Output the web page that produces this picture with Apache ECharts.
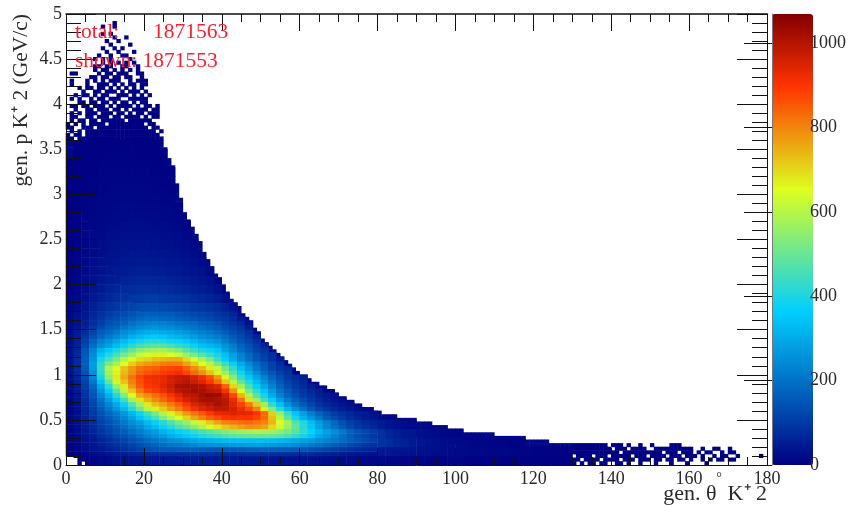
<!DOCTYPE html>
<html>
<head>
<meta charset="utf-8">
<title>gen. p vs theta K+ 2</title>
<script src="https://cdn.jsdelivr.net/npm/echarts@6/dist/echarts.min.js"></script>
<style>
html, body { margin: 0; padding: 0; background: #fff; overflow: hidden; }
#main { width: 849px; height: 505px; }
</style>
</head>
<body>
<div id="main"></div>
<script>
// tick labels
var thetaTicks = [0, 20, 40, 60, 80, 100, 120, 140, 160, 180];
var momentumTicks = [0, 0.5, 1, 1.5, 2, 2.5, 3, 3.5, 4, 4.5, 5];
var countTicks = [0, 200, 400, 600, 800, 1000];
var countMax = 1069;

// counts, one line per 0.1 GeV/c from p = 0, each entry a 2 degree bin from theta = 0
var bodyCounts = [
    [0,0,0,8,15,20,25,30,33,35,38,40,40,42,42,45,45,45,44,45,44,45,44,43,42,40,38,36,34,32,30,28,26,24,22,20,19,18,16,15,14,13,12,11,10,10,9,8,8,7,7,6,6,5,5,5,4,4,4,3,3,3,3,2,2],
    [4,8,20,30,38,48,60,70,85,95,105,115,120,125,125,130,130,125,120,115,115,115,120,125,130,130,130,125,125,120,115,110,100,90,85,78,70,60,55,50,45,42,38,34,30,28,26,24,22,20,18,17,15,14,12,11,10,9,8,7,6,6,5,5,4],
    [6,15,30,42,60,75,90,110,130,150,170,190,205,225,235,250,265,275,285,290,295,300,300,305,300,300,295,285,280,270,255,240,225,205,185,170,150,130,115,100,88,76,65,56,48,40,34,28,24,20,18,15,13,11,9,8,7,6,5,4,3,3,2,2,1],
    [8,20,40,60,85,105,130,155,175,205,235,260,290,320,345,370,395,425,450,470,495,505,520,525,530,525,520,505,485,450,410,360,315,275,240,205,170,140,120,100,85,68,55,45,37,30,24,19,15,12,9,7,5,3],
    [10,25,50,75,110,135,165,200,235,265,310,350,395,440,490,530,580,630,680,720,760,780,795,810,800,780,720,640,570,480,410,340,280,230,190,150,120,95,80,62,50,38,30,24,18,12,8,3],
    [10,28,60,95,135,170,205,250,300,360,425,490,560,630,680,740,790,830,870,900,920,930,920,920,890,830,720,580,460,370,300,240,190,150,120,95,75,58,45,34,22,8],
    [12,30,70,115,170,220,280,350,440,540,640,700,740,790,830,880,930,960,980,1000,990,950,900,840,760,620,480,380,290,230,180,140,105,80,62,46,34,18,6],
    [14,35,85,140,215,290,380,490,610,720,770,810,850,890,930,970,990,1020,1030,1020,980,900,780,640,520,420,330,255,195,150,115,90,65,50,34,18,5],
    [18,45,100,170,280,390,520,640,750,830,880,900,930,960,1000,1010,1020,1010,980,960,870,740,610,490,400,320,250,190,145,110,85,62,45,28,8],
    [25,60,125,220,370,520,650,740,810,870,910,920,930,960,980,990,960,930,880,800,690,570,460,380,310,245,190,145,110,85,60,40,10],
    [30,70,150,260,430,580,660,730,780,830,850,860,880,890,900,860,810,760,700,640,540,450,360,290,230,175,135,105,80,55,20],
    [35,75,165,270,410,490,550,620,680,720,740,760,770,780,780,730,680,620,560,480,400,330,270,220,170,135,100,70,25],
    [35,70,150,240,330,380,430,480,530,580,600,620,620,600,570,520,480,440,410,370,310,260,210,170,130,100,65,15],
    [30,60,115,180,240,270,310,350,390,420,440,450,440,420,400,380,350,320,300,280,240,200,160,130,95,55,10],
    [25,50,85,130,170,195,225,260,285,310,325,330,325,310,295,280,260,240,225,205,175,145,120,90,50,6],
    [20,35,60,90,120,145,165,190,210,225,240,245,240,230,215,205,195,180,165,150,125,105,80,40,8],
    [15,30,45,70,90,110,125,140,155,170,180,180,175,170,160,150,140,130,120,105,90,70,35,5],
    [12,22,35,55,72,85,95,110,120,130,135,135,130,125,120,110,100,95,85,75,60,35,4],
    [10,18,28,42,58,68,78,85,95,100,105,105,100,95,90,85,78,70,62,52,30,6],
    [8,14,24,35,48,56,64,72,78,82,82,80,78,75,70,65,58,52,45,30,6],
    [8,12,20,30,40,48,54,60,65,68,68,66,64,60,56,52,46,40,32,15],
    [6,10,17,26,34,40,46,50,55,56,56,54,52,48,45,40,35,30,18],
    [5,9,15,22,30,35,40,42,45,46,46,44,42,40,36,32,27,20,5],
    [4,8,13,19,25,30,33,36,38,39,38,37,35,32,30,26,20,8],
    [4,7,11,16,21,25,28,30,32,33,32,30,28,26,24,20,14,3],
    [3,6,10,14,18,21,24,26,27,27,27,25,23,21,19,15,6],
    [3,5,8,12,15,18,20,22,23,23,22,20,19,17,14,9,2],
    [2,5,7,10,13,15,17,18,19,19,18,17,15,13,11,6],
    [2,4,6,9,11,13,15,16,16,15,15,14,12,10,6],
    [2,3,5,7,10,11,13,13,13,13,12,11,9,7,3],
    [1,3,4,6,8,10,11,11,11,11,10,9,7,5,2],
    [1,2,4,5,7,8,9,9,9,9,8,7,6,3,1],
    [1,2,3,4,6,7,7,8,8,7,7,6,4,2],
    [1,2,3,4,5,6,6,6,6,6,5,4,3,1],
    [0,1,2,3,4,5,5,5,5,4,4,3,1],
    [0,1,2,3,3,4,4,4,4,3,3,2,1]
];

// the bright lobe read again at 0.05 GeV/c, p = 0.1 to 1.7, theta = 0 to 80 in 2 degree bins
var lobeCounts = [
    [3,6,15,24,30,38,46,54,62,68,72,76,80,82,84,85,85,85,82,80,80,82,84,85,85,85,85,82,80,78,75,72,66,60,55,50,45,40,36,33],
    [5,10,24,35,45,58,72,85,100,115,130,145,150,155,160,165,165,155,150,145,150,150,155,160,165,170,170,165,160,155,150,140,130,118,108,98,88,76,70,64],
    [6,14,28,40,55,70,85,100,120,140,158,175,190,205,215,225,240,250,255,260,265,270,275,280,280,275,270,265,255,245,230,215,200,180,165,150,130,115,100,88],
    [7,16,32,45,65,80,98,118,140,160,185,205,225,245,260,275,290,305,315,325,330,335,335,335,335,335,330,320,310,300,285,270,250,230,210,190,170,150,130,112],
    [8,18,37,55,80,100,125,145,165,195,225,250,275,305,330,355,375,405,430,445,470,480,495,500,505,500,495,480,460,430,390,345,300,265,230,195,165,135,115,95],
    [8,22,43,65,90,112,138,165,190,220,250,275,310,340,370,395,425,460,485,510,535,550,565,575,585,580,570,550,520,480,430,375,325,285,250,215,175,145,125,105],
    [9,24,48,72,105,128,158,190,225,250,295,330,375,415,460,500,545,590,640,680,720,745,765,785,780,760,700,625,560,490,415,345,285,235,195,155,125,100,85,66],
    [10,26,52,78,115,142,172,210,245,280,325,370,415,465,520,560,615,670,720,760,800,815,825,835,820,800,740,655,580,470,405,335,275,225,185,145,115,90,75,58],
    [10,27,57,90,128,160,195,238,285,340,400,460,530,595,645,705,760,805,845,870,900,910,900,905,880,830,730,600,480,390,315,255,205,160,128,102,80,62,48,36],
    [10,29,63,100,142,180,215,262,315,380,450,520,590,665,715,775,820,855,895,930,940,950,940,935,900,830,710,560,440,350,285,225,175,140,112,88,70,54,42,32],
    [11,30,67,110,160,208,262,325,410,505,600,670,715,770,810,860,910,945,965,985,985,960,920,870,800,670,530,420,320,255,200,155,118,90,70,52,40,24,10],
    [12,31,73,120,180,232,298,375,470,575,680,730,765,810,850,900,950,975,995,1015,995,940,880,810,720,570,430,340,260,205,160,125,92,70,54,40,28,12,3],
    [13,33,80,132,200,270,350,450,570,685,750,795,835,875,915,955,985,1015,1020,1010,990,925,820,690,560,450,360,280,215,165,128,98,72,55,38,22,8],
    [14,37,90,148,230,310,410,530,650,755,790,825,865,905,945,985,995,1025,1040,1030,970,875,740,590,480,390,300,230,175,135,102,82,58,45,30,14],
    [16,42,95,160,260,360,480,605,720,810,865,890,920,950,990,1005,1025,1015,990,975,900,780,650,525,430,345,270,205,158,120,93,70,50,33,10],
    [20,48,105,180,300,420,560,675,780,850,895,910,940,970,1010,1015,1015,1005,970,945,840,700,570,455,370,295,230,175,132,100,77,54,40,22,6],
    [24,56,118,205,345,490,625,725,800,865,905,915,930,955,980,995,970,945,895,825,720,600,490,405,330,260,205,155,120,92,66,45,18],
    [26,64,132,235,395,550,675,755,820,875,915,925,930,965,980,985,950,915,865,775,660,540,430,355,290,230,175,135,100,78,54,35,6],
    [29,68,145,250,425,575,665,735,785,840,860,875,890,905,915,880,830,785,725,665,570,475,385,310,250,190,150,115,88,62,28],
    [31,72,155,270,435,585,655,725,775,820,840,845,870,875,885,840,790,735,675,615,510,425,335,270,210,160,120,95,72,48,10],
    [34,75,168,280,425,520,580,650,710,755,775,790,805,815,810,765,715,655,595,520,440,365,300,245,190,150,115,80,40],
    [36,75,162,260,395,460,520,590,650,690,705,730,735,745,750,695,645,585,525,440,360,295,240,195,150,120,85,50,8],
    [36,72,155,248,350,405,460,515,565,620,640,665,665,650,620,565,525,480,440,395,335,285,230,185,145,110,80,25],
    [34,68,145,230,310,355,400,445,495,540,560,575,575,550,520,475,435,400,380,345,285,235,190,155,115,90,50,6],
    [32,62,120,190,255,285,330,370,415,450,470,485,475,455,430,405,375,340,320,300,260,220,175,142,105,65,15],
    [28,58,110,170,225,255,290,330,365,390,410,415,405,385,370,355,325,300,280,260,220,180,145,118,85,45,5],
    [26,52,92,140,180,208,240,275,305,330,345,355,350,330,315,300,280,255,240,220,190,158,130,100,60,10],
    [24,48,78,120,160,182,210,245,265,290,305,305,300,290,275,260,240,225,210,190,160,132,110,80,40,4],
    [21,38,65,98,130,155,175,205,225,240,255,260,255,245,230,218,205,192,175,160,135,115,90,50,12],
    [19,32,55,82,110,135,155,175,195,210,225,230,225,215,200,192,185,168,155,140,115,95,70,30,4],
    [16,32,48,75,95,118,132,150,165,180,190,192,185,180,170,160,150,138,128,112,98,78,42,8],
    [14,28,42,65,85,102,118,130,145,160,170,168,165,160,150,140,130,122,112,98,82,62,28,3]
];

// outer edge of the filled area in degrees, one entry per 0.04 GeV/c from p = 0
var edgeTheta = [
    130,130,130,130,130,130,124,118,110,102,98,94,90,85,81,79,76,74,72,70,
    69,67,65,63,62,60,59,58,57,56,55,54,53,52,51,50,50,49,48,48,
    47,46,45,45,44,43,42,42,41,41,40,40,39,38,38,37,37,36,36,35,
    35,35,34,34,33,33,32,32,31,31,30,30,30,30,29,29,29,29,28,28,
    28,28,28,27,27,26,26,26,25,25
];
var edgeCount = 15;

// single entry bins in the sparse top: p bin (0.04 GeV/c) -> list of 1 degree theta bins
var topFringe = {
    90: [0,1,3,4,5,6,7,8,9,10,11,12,13,14,15,16,17,18,19,20,21,22,23,24],
    91: [0,2,3,5,6,7,8,9,10,11,12,13,14,15,16,17,18,19,20,21,22,23],
    92: [1,3,5,6,7,8,9,10,11,12,13,14,15,16,17,18,19,20,21,22,24],
    93: [0,1,4,5,6,8,9,10,11,12,13,14,15,16,17,18,19,20,22,23],
    94: [0,2,4,6,7,8,9,11,12,13,14,15,16,17,18,19,21,22],
    95: [1,3,4,6,7,9,10,11,12,13,14,16,17,18,19,20,21],
    96: [1,2,5,6,8,9,10,12,13,15,16,17,18,20,22,23],
    97: [1,3,5,6,7,9,10,11,13,14,16,18,19,21,22,23],
    98: [2,5,6,8,9,10,12,13,15,17,18,19,20,22,23],
    99: [1,2,4,5,7,8,9,11,13,14,15,16,18,20,21,23],
    100: [3,4,6,7,9,10,12,14,15,17,19,20],
    101: [1,3,6,8,9,11,12,13,16,17,18,19,20],
    102: [2,4,5,7,9,10,13,14,15,17,19,21],
    103: [4,7,8,10,11,12,14,16,17,18,20],
    104: [3,5,6,8,9,11,13,15,17,19],
    105: [1,5,8,9,10,12,14,16,17,19,20],
    106: [1,5,7,9,11,12,13,16,18,19,20],
    107: [6,7,9,10,12,13,15,16,19],
    108: [1,2,8,10,11,13,14,15,18,19],
    109: [7,9,10,12,14,16,18],
    110: [7,8,10,11,14,15,18],
    111: [9,11,13,15,17],
    112: [7,9,11,16],
    113: [8,11,14,15],
    114: [10,13,17],
    115: [9,12,14],
    116: [11,16],
    117: [10,13],
    118: [12,15],
    119: [9,11],
    121: [9,12],
    122: [12]
};

// single entry bins in the tail at high theta
var tailFringe = {
    0: [130,132,134,135,137,138,141,142,144,147,151,155,159,164],
    1: [130,131,133,134,135,136,138,139,140,141,143,144,145,147,148,149,151,152,154,155,157,158,160,163,165,167,168,170,171],
    2: [131,132,133,134,136,137,138,140,141,142,143,144,146,147,148,150,151,152,153,155,156,157,159,160,161,163,166,168,169,172,178],
    3: [130,131,132,133,134,135,136,137,138,139,140,141,143,144,145,146,147,148,149,150,151,152,154,155,156,158,159,160,162,164,165,168,170,171],
    4: [130,131,132,133,134,135,136,137,138,139,141,142,143,145,146,147,148,151,152,153,154,155,156,157,158,159,160,163,166,167,170],
    5: [130,131,132,133,134,135,136,137,138,140,141,142,144,147,150,155,156,157]
};

// low p corner near theta = 0
var cornerFringe = {
    0: [3,5],
    1: [3,4,5],
    2: [2,3,4,5]
};

// ROOT rainbow palette
var paletteStops = [0, 0.34, 0.61, 0.84, 1];
var paletteRgb = [[0, 0, 130], [0, 207, 255], [222, 255, 31], [255, 51, 0], [130, 0, 0]];

function buildPalette() {
    var colors = [];
    for (var i = 0; i <= 100; i++) {
        var t = i / 100, k = 0;
        while (k < paletteStops.length - 2 && t > paletteStops[k + 1]) k++;
        var f = (t - paletteStops[k]) / (paletteStops[k + 1] - paletteStops[k]);
        var c = [0, 1, 2].map(function (n) {
            return Math.round(paletteRgb[k][n] + (paletteRgb[k + 1][n] - paletteRgb[k][n]) * f);
        });
        colors.push('rgb(' + c.join(',') + ')');
    }
    return colors;
}

function binLabels(count) {
    var list = [];
    for (var i = 0; i < count; i++) list.push(String(i));
    return list;
}

// a cell stays only if it fits under the outer edge along its whole height
function insideEdge(thetaRight, pTop) {
    var bin = Math.ceil(pTop / 0.04 - 1e-6) - 1;
    if (bin >= edgeTheta.length) return true;
    return thetaRight <= edgeTheta[bin];
}

function bodyData() {
    var data = [];
    bodyCounts.forEach(function (row, r) {
        row.forEach(function (v, c) {
            var inLobe = r >= 1 && r < 17 && c < 40;
            if (v > 0 && !inLobe && insideEdge(2 * c + 2, 0.1 * (r + 1))) data.push([c, r, v]);
        });
    });
    return data;
}

function lobeData() {
    var data = [];
    lobeCounts.forEach(function (row, r) {
        row.forEach(function (v, c) {
            if (v > 0 && insideEdge(2 * c + 2, 0.1 + 0.05 * (r + 1))) data.push([c, r + 2, v]);
        });
    });
    return data;
}

function fineData() {
    var data = [];
    edgeTheta.forEach(function (edge, p) {
        for (var t = Math.max(0, edge - 26); t < edge; t++) {
            if (p > 2 || t > 26) data.push([t, p, edgeCount]);
        }
    });
    [topFringe, tailFringe, cornerFringe].forEach(function (part) {
        Object.keys(part).forEach(function (p) {
            part[p].forEach(function (t) {
                data.push([t, Number(p), 1]);
            });
        });
    });
    return data;
}

var labelFont = 'Liberation Serif';
var labelColor = '#2a2a2a';
var plotRect = { left: 66, top: 14, width: 701, height: 451 };

function hiddenCategory(grid, count) {
    return { type: 'category', gridIndex: grid, data: binLabels(count), show: false };
}

function frameAxis(grid, pos, range, interval, split, major, minor, ticks) {
    var isX = pos === 'bottom' || pos === 'top';
    var main = pos === 'bottom' || pos === 'left';
    return {
        type: 'value', gridIndex: grid, position: pos, min: range[0], max: range[1], interval: interval, z: 5,
        axisLine: { show: true, onZero: false, lineStyle: { color: '#111', width: isX && !main ? 1.5 : 1 } },
        axisTick: { show: true, inside: true, length: major, lineStyle: { color: '#111', width: 1 } },
        minorTick: { show: true, splitNumber: split, length: minor, lineStyle: { color: '#111', width: 1 } },
        splitLine: { show: false },
        axisLabel: {
            show: main, fontFamily: labelFont, fontSize: 18, color: labelColor, margin: isX ? 5 : 4,
            padding: isX ? 0 : [3, 0, 0, 0],
            showMinLabel: true, showMaxLabel: true,
            customValues: ticks
        }
    };
}

var myChart = echarts.init(document.getElementById('main'), null, { renderer: 'canvas' });

var option = {
    animation: false,
    backgroundColor: '#fff',
    grid: [
        plotRect,
        plotRect,
        plotRect,
        plotRect,
        { left: 772, top: 14, width: 41, height: 451 }
    ],
    xAxis: [
        hiddenCategory(0, 180),
        hiddenCategory(1, 90),
        hiddenCategory(2, 90),
        frameAxis(3, 'bottom', [0, 180], 20, 4, 17, 8, thetaTicks),
        frameAxis(3, 'top', [0, 180], 20, 4, 17, 8),
        { type: 'value', gridIndex: 4, min: 0, max: 1, show: false }
    ],
    yAxis: [
        hiddenCategory(0, 125),
        hiddenCategory(1, 50),
        hiddenCategory(2, 100),
        frameAxis(3, 'left', [0, 5], 0.5, 5, 30, 15, momentumTicks),
        frameAxis(3, 'right', [0, 5], 0.5, 5, 30, 15),
        {
            type: 'value', gridIndex: 4, position: 'right', min: 0, max: countMax, z: 5,
            axisLine: { show: true, lineStyle: { color: '#777', width: 1 } },
            axisTick: { show: true, inside: true, length: 28, customValues: countTicks, lineStyle: { color: '#111', width: 1 } },
            splitLine: { show: false },
            axisLabel: {
                fontFamily: labelFont, fontSize: 18, color: labelColor, margin: 5, customValues: countTicks,
                padding: [2, 0, 0, 0],
                formatter: function (v) { return String(v); }
            }
        }
    ],
    visualMap: {
        type: 'continuous',
        seriesIndex: [0, 1, 2],
        min: 0,
        max: countMax,
        left: 772,
        top: 14,
        padding: 0,
        itemWidth: 41,
        itemHeight: 451,
        text: ['', ''],
        showLabel: false,
        calculable: false,
        hoverLink: false,
        inRange: { color: buildPalette() }
    },
    series: [
        {
            type: 'heatmap', xAxisIndex: 0, yAxisIndex: 0, data: fineData(), z: 1,
            progressive: 0, emphasis: { disabled: true }
        },
        {
            type: 'heatmap', xAxisIndex: 1, yAxisIndex: 1, data: bodyData(), z: 2,
            progressive: 0, emphasis: { disabled: true }
        },
        {
            type: 'heatmap', xAxisIndex: 2, yAxisIndex: 2, data: lobeData(), z: 2,
            progressive: 0, emphasis: { disabled: true }
        }
    ],
    graphic: [
        { type: 'text', z: 10, x: 75, y: 32, style: { text: 'total:', font: '21.5px "Liberation Serif"', fill: '#ff1f2f', verticalAlign: 'middle' } },
        { type: 'text', z: 10, x: 153, y: 32, style: { text: '1871563', font: '21.5px "Liberation Serif"', fill: '#ff1f2f', verticalAlign: 'middle' } },
        { type: 'text', z: 10, x: 75, y: 61, style: { text: 'shown: 1871553', font: '21.5px "Liberation Serif"', fill: '#ff1f2f', verticalAlign: 'middle' } },
        { type: 'text', z: 10, x: 767, y: 494, style: { text: 'gen. \u03b8  K\u207a 2', font: '22px "Liberation Serif"', fill: labelColor, align: 'right', verticalAlign: 'middle' } },
        { type: 'text', z: 10, x: 719, y: 478, style: { text: '\u00b0', font: '14px "Liberation Serif"', fill: labelColor, align: 'center', verticalAlign: 'middle' } },
        { type: 'text', z: 10, x: 21, y: 14, rotation: Math.PI / 2, style: { text: 'gen. p K\u207a 2 (GeV/c)', font: '21.5px "Liberation Serif"', fill: labelColor, align: 'right', verticalAlign: 'middle' } }
    ]
};

myChart.setOption(option);
</script>
</body>
</html>
